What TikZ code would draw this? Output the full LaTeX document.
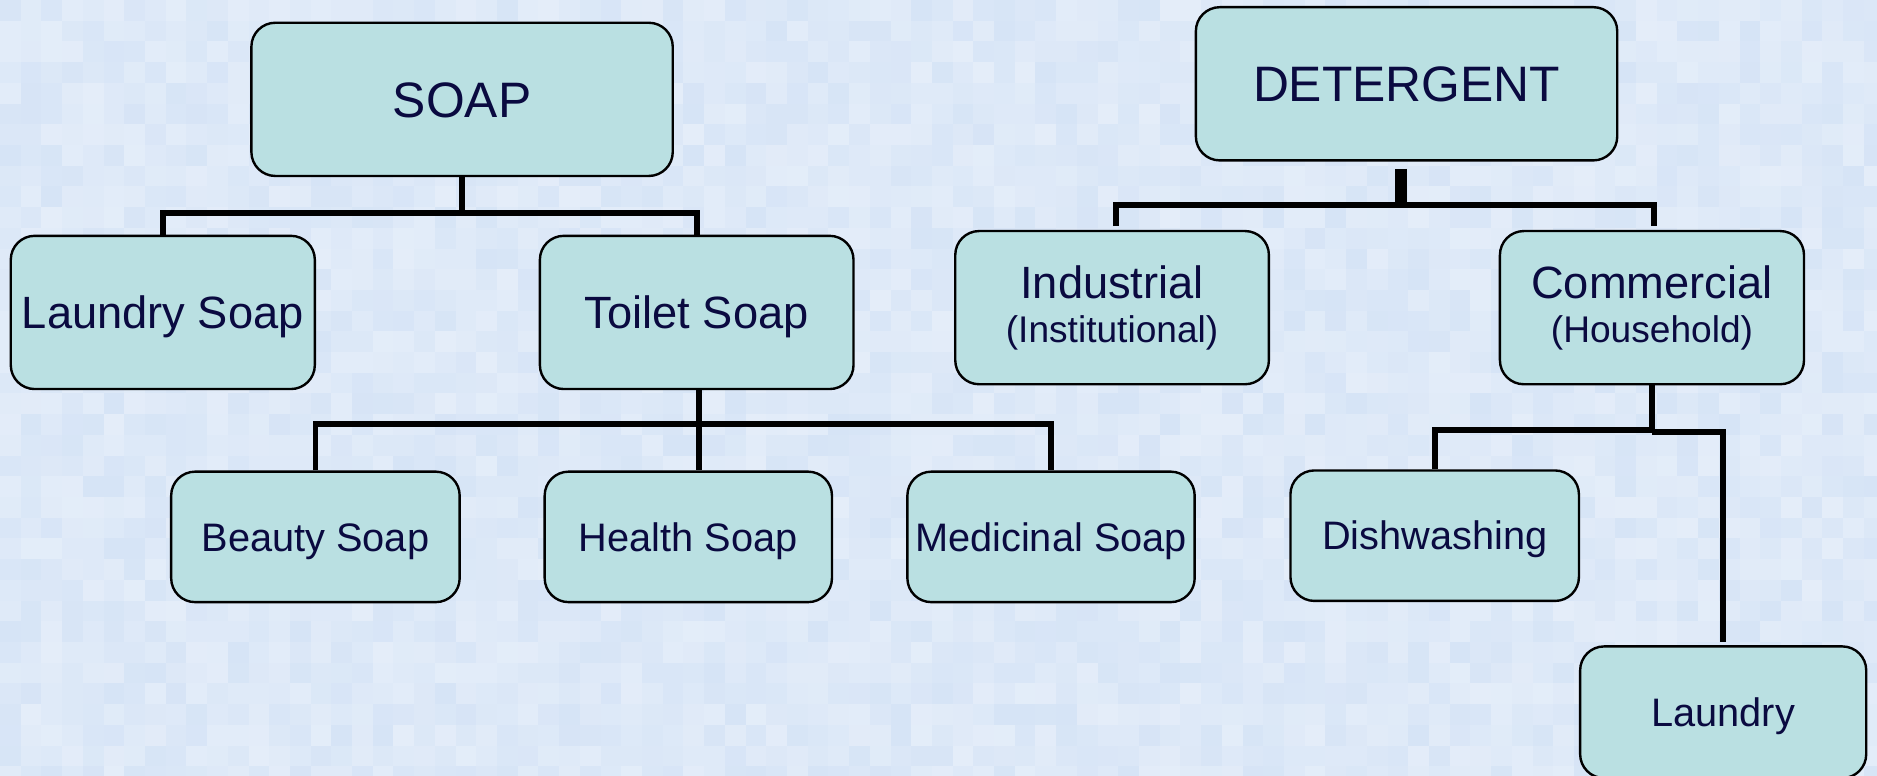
\documentclass[tikz,border=0pt]{standalone}
\usepackage{fontspec}
\setmainfont{Liberation Sans}
\usetikzlibrary{calc}
\definecolor{bgA}{HTML}{D6E4F6}
\definecolor{bgB}{HTML}{E4EDF9}
\definecolor{boxfill}{HTML}{BAE0E2}
\definecolor{navy}{HTML}{0A0A40}
\tikzset{
  box/.style={draw=black, line width=1pt, fill=boxfill, rounded corners=10pt,
    inner sep=0pt, text=navy, align=center},
  bigtxt/.style={font=\fontsize{20.8}{24}\selectfont, text height=14.9pt, text depth=0pt},
  midtxt/.style={font=\fontsize{18.9}{17}\selectfont, text height=13.5pt, text depth=0pt},
  twotxt/.style={font=\fontsize{18.9}{17}\selectfont},
  smalltxt/.style={font=\fontsize{16.6}{20}\selectfont, text height=11.9pt, text depth=0pt},
  conn/.style={draw=black, line width=2.4pt},
}
\newcommand{\subline}[1]{{\fontsize{15.5}{17}\selectfont #1}}
\begin{document}
\begin{tikzpicture}[x=0.5pt, y=-0.5pt]
\useasboundingbox (0,0) rectangle (1568,648);
% background mosaic
\begin{scope}
\clip (0,0) rectangle (1568,648);
\fill[bgB!60!bgA] (0,0) rectangle (1568,648);
\pgfmathsetseed{7}
\foreach \i in {0,...,90}{
  \foreach \j in {0,...,37}{
    \pgfmathsetmacro{\r}{int(100*rnd)}
    \fill[bgA!\r!bgB] ({\i*17.3},{\j*17.3}) rectangle ({(\i+1)*17.3+0.3},{(\j+1)*17.3+0.3});
  }
}
\end{scope}
% nodes
\node[box, bigtxt, minimum width=352*0.5pt, minimum height=128*0.5pt] (soap) at (386,83) {SOAP};
\node[box, bigtxt, minimum width=352*0.5pt, minimum height=128*0.5pt] (det) at (1175,70) {DETERGENT};
\node[box, midtxt, minimum width=254*0.5pt, minimum height=128*0.5pt] (lsoap) at (136,261) {Laundry Soap};
\node[box, midtxt, minimum width=262*0.5pt, minimum height=128*0.5pt] (tsoap) at (582,261) {Toilet Soap};
\node[box, twotxt, minimum width=262*0.5pt, minimum height=128*0.5pt] (ind) at (929,257) {Industrial\\[1.5pt]\subline{(Institutional)}};
\node[box, twotxt, minimum width=254*0.5pt, minimum height=128*0.5pt] (com) at (1380,257) {Commercial\\[1.5pt]\subline{(Household)}};
\node[box, smalltxt, minimum width=241*0.5pt, minimum height=109*0.5pt] (beauty) at (263.5,448.5) {Beauty Soap};
\node[box, smalltxt, minimum width=240*0.5pt, minimum height=109*0.5pt] (health) at (575,448.5) {Health Soap};
\node[box, smalltxt, minimum width=240*0.5pt, minimum height=109*0.5pt] (med) at (878,448.5) {Medicinal Soap};
\node[box, smalltxt, minimum width=241*0.5pt, minimum height=109*0.5pt] (dish) at (1198.5,447.5) {Dishwashing};
\node[box, smalltxt, minimum width=239*0.5pt, minimum height=110*0.5pt] (laundry) at (1439.5,595) {Laundry};
% soap connectors
\coordinate (sj) at ($(soap.south)+(0,30)$);
\draw[conn] (soap.south) -- (sj);
\draw[conn] (lsoap.north) |- (sj) -| (tsoap.north);
% toilet soap connectors
\coordinate (ts) at ($(tsoap.south)+(2,0)$);
\coordinate (tj) at ($(ts)+(0,28)$);
\draw[conn] (ts) -- (ts |- health.north);
\draw[conn] (beauty.north) |- (tj) -| (med.north);
% detergent connectors
\coordinate (ds) at ($(det.south)+(-5,6)$);
\coordinate (dj) at ($(det.south)+(-5,36)$);
\draw[draw=black, line width=5pt] (ds) -- (dj);
\draw[conn, line width=2.6pt] ($(ind.north)+(3,-3)$) |- (dj) -| ($(com.north)+(2,-3)$);
% commercial connectors
\coordinate (cj) at ($(com.south)+(0,37)$);
\coordinate (cj2) at ($(com.south)+(0,39)$);
\draw[conn] (com.south) -- (cj2);
\draw[conn] (dish.north) |- (cj);
\draw[conn] (cj2) -| ($(laundry.north)+(0,-3)$);
\end{tikzpicture}
\end{document}
